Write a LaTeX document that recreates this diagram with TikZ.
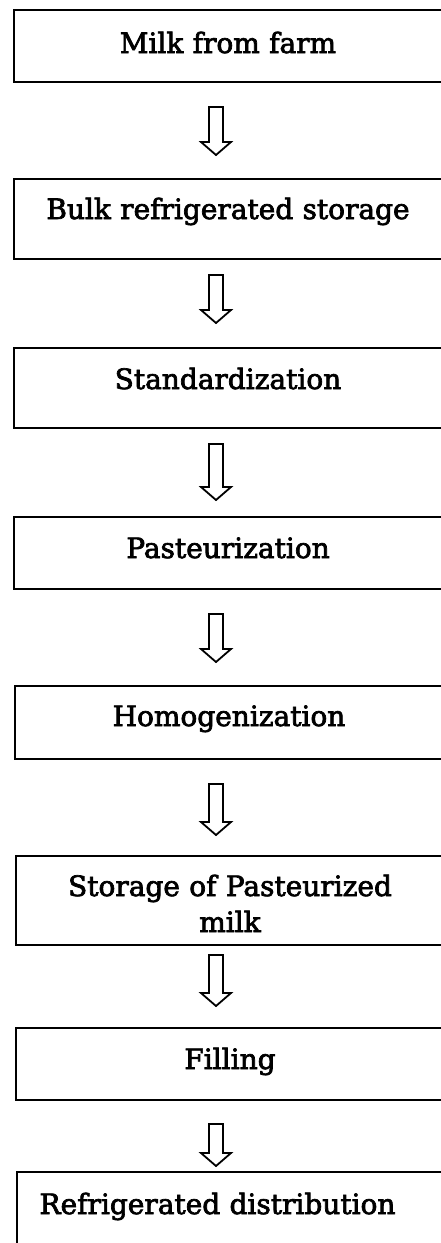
\documentclass[tikz,border=0pt]{standalone}
\usepackage{fontspec}
\newfontfamily\stagefont{DejaVu Serif}[FakeBold=2.5]
\usepackage{tikz}
\usetikzlibrary{calc}
\tikzset{stagebox/.style={draw, line width=2pt, anchor=north west, inner sep=0pt,
    minimum width=428pt, text width=428pt, align=center,
    font=\stagefont\fontsize{28}{36}\selectfont}}
\tikzset{flowarrow/.style={draw, line width=1.8pt, line join=miter}}
\newcommand{\hollowarrow}[4]{%
    \coordinate (s) at ($(#1.south -| ax)+(0,#3)$);
    \coordinate (e) at ($(#2.north -| ax)+(0,-#4)$);
    \draw[flowarrow] ($(s)+(-7,0)$) -- ($(e)+(-7,-13)$) -- ($(e)+(-15,-13)$) -- (e)
        -- ($(e)+(15,-13)$) -- ($(e)+(7,-13)$) -- ($(s)+(7,0)$) -- cycle;}

\begin{document}
\begin{tikzpicture}[x=1pt, y=-1pt]
    \useasboundingbox (0,0) rectangle (441,1243);
    \clip (0,0) rectangle (441,1243);
    \coordinate (ax) at (216,0);
    %boxes
    \node[stagebox, text height=43pt, text depth=29pt] (farm) at (13,9) {Milk from farm};
    \node[stagebox, text height=40pt, text depth=40pt] (bulk) at (13,178) {Bulk refrigerated storage};
    \node[stagebox, text height=41pt, text depth=39pt] (std) at (13,347) {Standardization};
    \node[stagebox, text height=41pt, text depth=31pt] (past) at (13,516) {Pasteurization};
    \node[stagebox, text height=40pt, text depth=33pt] (homo) at (14,685) {Homogenization};
    \node[stagebox, text height=40pt, text depth=49pt] (store) at (15,855) {Storage of Pasteurized\\milk};
    \node[stagebox, text height=41pt, text depth=31pt] (fill) at (15,1027) {Filling};
    \node[stagebox, text height=42pt, text depth=52pt] (dist) at (16,1171) {\hspace*{-27pt}Refrigerated distribution};
    %arrows
    \hollowarrow{farm}{bulk}{24}{23}
    \hollowarrow{bulk}{std}{15}{24}
    \hollowarrow{std}{past}{15}{16}
    \hollowarrow{past}{homo}{24}{23}
    \hollowarrow{homo}{store}{24}{20}
    \hollowarrow{store}{fill}{9}{21}
    \hollowarrow{fill}{dist}{23}{5}
\end{tikzpicture}
\end{document}
